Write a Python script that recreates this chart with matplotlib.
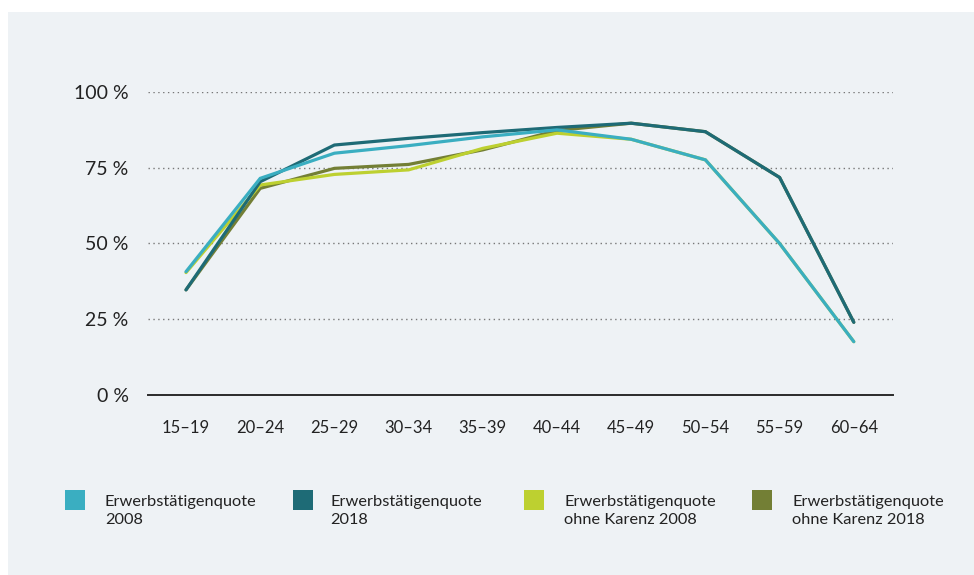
import matplotlib
matplotlib.use("Agg")
import matplotlib.pyplot as plt
from matplotlib.patches import Rectangle

plt.rcParams["font.family"] = ["Lato", "DejaVu Sans"]

age_groups = ["15–19", "20–24", "25–29", "30–34", "35–39",
              "40–44", "45–49", "50–54", "55–59", "60–64"]

quote_2008 = [40.7, 71.5, 79.8, 82.3, 85.2, 87.5, 84.4, 77.6, 50.0, 17.6]
quote_2018 = [34.7, 70.4, 82.5, 84.7, 86.6, 88.3, 89.7, 86.9, 71.8, 24.0]
ohne_karenz_2008 = [40.4, 69.3, 72.8, 74.3, 81.4, 86.4, 84.4, 77.6, 50.0, 17.6]
ohne_karenz_2018 = [34.7, 68.2, 74.8, 76.1, 80.9, 87.3, 89.7, 86.9, 71.8, 24.0]

series_labels = ["Erwerbstätigenquote\n2008",
                 "Erwerbstätigenquote\n2018",
                 "Erwerbstätigenquote\nohne Karenz 2008",
                 "Erwerbstätigenquote\nohne Karenz 2018"]
y_ticks = [0, 25, 50, 75, 100]

colors = ["#3aaec1", "#1e6b76", "#bdd030", "#737f35"]
bg = "#eef2f5"

W, H = 974, 575
fig = plt.figure(figsize=(W / 100, H / 100), dpi=100)
fig.patch.set_facecolor("white")
fig.patches.append(Rectangle((8 / W, 0), 1 - 8 / W, 1 - 12 / H,
                             transform=fig.transFigure, facecolor=bg,
                             edgecolor="none", zorder=-5))

ax = fig.add_axes([148 / W, (H - 395) / H, (893 - 148) / W, (395 - 92) / H])
ax.set_facecolor("none")
ax.set_zorder(2)

x = list(range(len(age_groups)))
series = [quote_2008, quote_2018, ohne_karenz_2008, ohne_karenz_2018]
# draw the "ohne Karenz" lines first so the main series sit on top
for idx, z in zip([3, 2, 1, 0], [2, 3, 4, 5]):
    ax.plot(x, series[idx], color=colors[idx], lw=2.3, zorder=z,
            solid_joinstyle="miter", solid_capstyle="round")

step = 74.2
ax.set_xlim((148 - 186) / step, (893 - 186) / step)
ax.set_ylim(0, 100)
ax.set_xticks(x)
ax.set_xticklabels(age_groups, fontsize=12, color="#222222")
ax.set_yticks(y_ticks)
ax.set_yticklabels([f"{v} %" for v in y_ticks], fontsize=14, color="#222222")
ax.tick_params(axis="both", length=0)
ax.tick_params(axis="x", pad=18)
ax.tick_params(axis="y", pad=14)

for v in y_ticks[1:]:
    ax.axhline(v, color="#777777", lw=1.0, ls=(0, (1, 2.5)), zorder=1)

for side in ["top", "right", "left"]:
    ax.spines[side].set_visible(False)
ax.spines["bottom"].set_color("#2a2a2a")
ax.spines["bottom"].set_linewidth(1.4)

# legend squares with two-line labels
box_x = [65, 293, 524, 752]
text_x = [105, 330, 564, 792]
for bx, tx, col, lab in zip(box_x, text_x, colors, series_labels):
    fig.patches.append(Rectangle((bx / W, (H - 510) / H), 20 / W, 20 / H,
                                 transform=fig.transFigure, facecolor=col,
                                 edgecolor="none", zorder=2))
    fig.text(tx / W, (H - 495) / H, lab, fontsize=11.8, color="#222222",
             va="top", ha="left", linespacing=1.4)

fig.savefig("out.png", dpi=100, facecolor=fig.get_facecolor())
